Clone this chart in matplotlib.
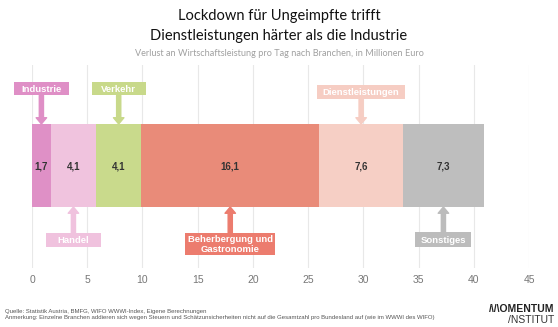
import matplotlib
matplotlib.use("Agg")
import matplotlib.pyplot as plt
from matplotlib.patches import Rectangle
from matplotlib.transforms import blended_transform_factory, IdentityTransform

categories = ["Industrie", "Handel", "Verkehr", "Beherbergung und\nGastronomie", "Dienstleistungen", "Sonstiges"]
values = [1.7, 4.1, 4.1, 16.1, 7.6, 7.3]
value_labels = ["1,7", "4,1", "4,1", "16,1", "7,6", "7,3"]
bar_colors = ["#df90c6", "#f0c3de", "#c9da8c", "#e98b79", "#f6cfc5", "#bebebe"]
box_colors = ["#df8fc6", "#f0c2de", "#c8d98a", "#ec7c6e", "#f6cdc3", "#bcbcbc"]
label_above = [True, False, True, False, True, False]
xticks = [0, 5, 10, 15, 20, 25, 30, 35, 40, 45]

W, H = 558, 327
fig = plt.figure(figsize=(W / 100, H / 100), dpi=100)
fig.patch.set_facecolor("white")

def px(x0, y0, x1, y1):
    return [x0 / W, 1 - y1 / H, (x1 - x0) / W, (y1 - y0) / H]

ax = fig.add_axes(px(32, 65, 529, 268))
ax.set_xlim(0, 45)
ax.set_ylim(0, 1)
for s in ax.spines.values():
    s.set_visible(False)
ax.set_yticks([])
ax.set_xticks(xticks)
ax.set_xticklabels([str(t) for t in xticks], fontsize=7.5, color="#777777",
                   family=["Liberation Sans", "DejaVu Sans"])
ax.tick_params(axis="x", length=0, pad=5)
ax.grid(axis="x", color="#e8e8e8", linewidth=0.8)
ax.set_axisbelow(True)

bar_y = 0.505
bar_h = 0.409
bar_top = bar_y + bar_h / 2
bar_bot = bar_y - bar_h / 2

left = 0.0
mids = []
for v, c, lab in zip(values, bar_colors, value_labels):
    ax.barh(bar_y, v, left=left, height=bar_h, color=c, edgecolor="none", zorder=2)
    mid = left + v / 2
    mids.append(mid)
    ax.text(mid, bar_y, lab, ha="center", va="center_baseline", fontsize=7, color="#333333",
            fontweight="bold", family=["Liberation Sans", "DejaVu Sans"], zorder=3)
    left += v

trans = blended_transform_factory(ax.transData, ax.transAxes)
# label box centre (axes fraction) and box size in pixels
box_y = [0.882, 0.138, 0.882, 0.118, 0.867, 0.140]
box_w = [55, 55, 54, 90, 88, 56]
box_h = [13, 14, 13, 22, 14, 15]
fig.canvas.draw()
for i, (cat, bc, up) in enumerate(zip(categories, box_colors, label_above)):
    x = mids[i]
    ty = box_y[i]
    cx, cy = trans.transform((x, ty))
    if up:
        tail = trans.inverted().transform((cx, cy - box_h[i] / 2))[1]
        tip = bar_top
    else:
        tail = trans.inverted().transform((cx, cy + box_h[i] / 2))[1]
        tip = bar_bot
    ax.annotate("", xy=(x, tip), xytext=(x, tail), xycoords=trans, textcoords=trans,
                arrowprops=dict(arrowstyle="simple,head_length=0.45,head_width=0.75,tail_width=0.3",
                                color=bc, shrinkA=0, shrinkB=0), zorder=1, annotation_clip=False)
    rect = Rectangle((cx - box_w[i] / 2, cy - box_h[i] / 2), box_w[i], box_h[i],
                     transform=IdentityTransform(), facecolor=bc, edgecolor="none",
                     zorder=4, clip_on=False)
    ax.add_artist(rect)
    va = "center" if "\n" in cat else "center_baseline"
    ax.text(x, ty, cat, transform=trans, ha="center", va=va, fontsize=6.8,
            fontweight="bold", color="white", family=["Liberation Sans", "DejaVu Sans"],
            linespacing=1.15, zorder=5, clip_on=False)

fig.text(0.5, 1 - 16 / H, "Lockdown für Ungeimpfte trifft", ha="center", va="center",
         fontsize=10.5, color="#111111", family=["Lato", "DejaVu Sans"])
fig.text(0.5, 1 - 36 / H, "Dienstleistungen härter als die Industrie", ha="center", va="center",
         fontsize=10.5, color="#111111", family=["Lato", "DejaVu Sans"])
fig.text(0.5, 1 - 53 / H, "Verlust an Wirtschaftsleistung pro Tag nach Branchen, in Millionen Euro",
         ha="center", va="center", fontsize=6.6, color="#a0a0a0", family=["Lato", "DejaVu Sans"])

fig.text(5 / W, 1 - 311 / H, "Quelle: Statistik Austria, BMFG, WIFO WWWI-Index, Eigene Berechnungen",
         ha="left", va="center", fontsize=4.3, color="#555555", family=["Liberation Sans", "DejaVu Sans"])
fig.text(5 / W, 1 - 318 / H,
         "Anmerkung: Einzelne Branchen addieren sich wegen Steuern und Schätzunsicherheiten nicht auf die Gesamtzahl pro Bundesland auf (wie im WWWI des WIFO)",
         ha="left", va="center", fontsize=4.3, color="#555555", family=["Liberation Sans", "DejaVu Sans"])

fig.text(554 / W, 1 - 309 / H, "/\\/\\OMENTUM", ha="right", va="center", fontsize=7.5,
         fontweight="bold", color="#222222", family=["Liberation Sans", "DejaVu Sans"])
fig.text(554 / W, 1 - 320 / H, "/NSTITUT", ha="right", va="center", fontsize=7.5,
         color="#333333", family=["Liberation Sans", "DejaVu Sans"])

fig.savefig("out.png", dpi=100, facecolor="white")
